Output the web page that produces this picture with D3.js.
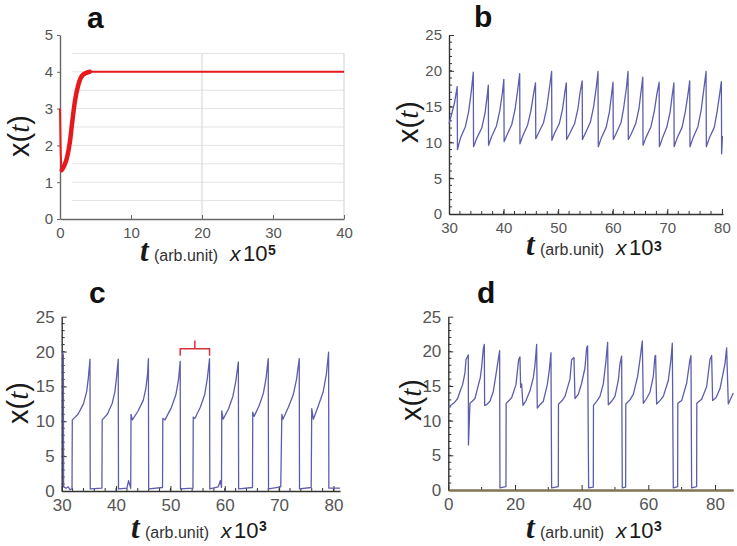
<!DOCTYPE html>
<html><head><meta charset="utf-8">
<script src="https://cdn.jsdelivr.net/npm/d3@7"></script>
<style>body{margin:0;background:#fff}svg{display:block}</style>
</head><body>
<svg id="chart" width="737" height="546"></svg>
<script>
// ---------- data ----------
const panelLetters = ["a", "b", "c", "d"];
const xTitleMain = "t", xTitleUnit = "(arb.unit)", xTitleTimes = "x", xTitleBase = "10";
const xTitleExp = ["5", "3", "3", "3"];

// panel a
const aT = [0, 0.08, 0.25, 0.6, 1.0, 1.4, 1.7, 2.1, 2.6, 3.3, 4.2, 6, 40];
const aX = [3.0, 2.0, 1.33, 1.45, 1.68, 2.1, 2.6, 3.2, 3.66, 3.93, 4.0, 4.0, 4.0];
const aXTicks = [0, 10, 20, 30, 40];
const aYTicks = [0, 1, 2, 3, 4, 5];
const aGridY = [0.5, 1, 1.5, 2, 2.5, 3, 3.5, 4, 4.5];
const aGridX = [20, 40];

// panel b
const bT = [30.0, 30.5, 31.0, 31.5, 31.55,
  32.1, 33.0, 33.6, 34.1, 34.45, 34.5,
  35.1, 36.0, 36.6, 37.0, 37.2, 37.25,
  37.8, 38.7, 39.3, 39.8, 40.05, 40.1,
  40.6, 41.5, 42.1, 42.6, 42.95, 43.0,
  43.5, 44.4, 45.0, 45.5, 45.85, 45.9,
  46.4, 47.3, 47.9, 48.4, 48.8, 48.85,
  49.3, 50.2, 50.8, 51.2, 51.5, 51.55,
  52.1, 53.0, 53.6, 54.0, 54.4, 54.45,
  55.0, 55.9, 56.5, 57.0, 57.3, 57.35,
  57.9, 58.8, 59.4, 59.8, 60.05, 60.1,
  60.6, 61.5, 62.0, 62.5, 62.8, 62.85,
  63.4, 64.2, 64.8, 65.2, 65.5, 65.55,
  66.1, 67.0, 67.6, 68.1, 68.5, 68.55,
  69.1, 69.9, 70.5, 70.9, 71.2, 71.25,
  71.8, 72.7, 73.3, 73.8, 74.1, 74.15,
  74.7, 75.6, 76.2, 76.7, 77.1, 77.15,
  77.7, 78.6, 79.1, 79.6, 79.9, 79.95, 80.1];
const bX = [12.6, 14.0, 15.5, 17.8, 9.0,
  10.6, 12.2, 14.3, 17.2, 19.8, 9.4,
  10.6, 12.0, 14.1, 16.5, 18.0, 9.6,
  10.8, 12.3, 14.4, 17.0, 18.8, 10.1,
  11.0, 12.5, 14.6, 17.4, 19.6, 9.8,
  10.9, 12.4, 14.4, 16.8, 18.3, 10.5,
  11.3, 12.7, 14.8, 17.6, 19.9, 10.3,
  11.2, 12.6, 14.6, 16.9, 18.3, 10.4,
  11.2, 12.6, 14.6, 16.9, 18.6, 10.4,
  11.3, 12.8, 15.0, 17.8, 19.9, 9.4,
  10.6, 12.1, 14.3, 16.8, 18.4, 10.4,
  11.2, 12.7, 14.8, 17.6, 19.9, 10.4,
  11.2, 12.6, 14.7, 17.2, 19.1, 9.6,
  10.7, 12.2, 14.3, 16.8, 18.4, 9.4,
  10.6, 12.1, 14.2, 16.6, 18.3, 9.4,
  10.6, 12.1, 14.3, 16.8, 18.6, 9.4,
  10.6, 12.2, 14.5, 17.5, 19.9, 9.4,
  10.6, 12.1, 14.2, 16.8, 18.5, 8.4, 10.9];
const bXTicks = [30, 40, 50, 60, 70, 80];
const bYTicks = [0, 5, 10, 15, 20, 25];

// panel c
const cT = [30.1, 30.3, 30.35, 30.8, 31.2, 31.5, 31.9,
  31.95, 33.0, 34.0, 34.6, 34.9, 35.2, 35.25,
  37.4, 37.45, 38.4, 39.3, 39.8, 40.1, 40.4, 40.45,
  42.0, 42.3, 42.7, 42.75, 43.0, 44.0, 45.0, 45.5, 45.8, 45.95, 46.0,
  48.55, 48.6, 49.0, 50.2, 51.0, 51.5, 51.8, 51.85,
  54.15, 54.2, 54.5, 55.5, 56.3, 56.8, 57.2, 57.25,
  58.8, 59.2, 59.4, 59.45, 59.7, 60.7, 61.5, 62.0, 62.5, 62.55,
  65.1, 65.15, 65.4, 66.3, 67.1, 67.6, 68.0, 68.05,
  70.3, 70.5, 70.7, 71.7, 72.6, 73.2, 73.7, 73.75,
  75.9, 76.0, 76.3, 77.2, 78.1, 78.7, 79.1, 79.15, 81.2];
const cX = [20.0, 19.5, 0.6, 0.4, 0.6, 0.2, 0.3,
  10.2, 11.0, 12.5, 14.3, 16.2, 18.9, 0.3,
  0.4, 10.2, 11.0, 12.6, 14.3, 16.4, 18.9, 0.3,
  0.4, 1.5, 0.4, 11.0, 10.2, 11.4, 13.0, 14.8, 16.8, 19.0, 0.3,
  0.5, 10.4, 10.2, 12.0, 13.8, 16.0, 18.6, 0.3,
  0.4, 10.6, 10.4, 12.0, 13.8, 16.2, 19.0, 0.3,
  0.6, 1.5, 0.5, 11.5, 10.3, 11.8, 13.6, 15.6, 18.5, 0.3,
  0.5, 11.3, 10.7, 12.2, 14.0, 16.2, 19.0, 0.3,
  0.6, 11.0, 10.3, 12.0, 13.8, 16.0, 19.0, 0.3,
  0.5, 11.8, 10.3, 12.2, 14.2, 16.8, 19.9, 0.4, 0.4];
const cXTicks = [30, 40, 50, 60, 70, 80];
const cYTicks = [0, 5, 10, 15, 20, 25];
const cBracketT = [51.8, 57.2];   // one period, between two peaks
const cBracketX = [19.4, 20.4, 21.6];

// panel d
const dT = [0, 1.0, 2.0, 2.8, 3.5, 4.3, 5.0, 5.3, 6.0, 6.05, 6.5, 7.2, 8.0, 9.0, 9.6, 10.0, 10.5, 10.8,
  10.9, 11.5, 12.5, 13.5, 14.5, 15.3, 15.4, 15.5, 17.3,
  17.35, 18.0, 19.0, 20.3, 21.1, 21.5, 21.7, 22.0, 22.4, 23.3, 24.5, 25.5, 26.0, 26.5,
  26.7, 27.5, 28.5, 29.7, 30.3, 30.8, 31.0, 33.0,
  33.05, 34.0, 35.0, 36.5, 37.0, 37.7, 38.0, 39.0, 40.0, 41.0, 41.5, 41.8, 42.1, 43.5,
  43.55, 44.5, 45.5, 46.5, 47.2, 47.8, 48.0, 49.0, 50.0, 51.0, 51.5, 52.0, 52.2, 53.2,
  53.25, 54.5, 55.5, 56.8, 57.5, 58.2, 58.5, 59.5, 60.5, 61.5, 62.0, 62.2, 62.5, 63.5, 64.5, 66.0, 66.8, 67.2, 67.5, 68.8,
  68.85, 70.0, 71.5, 72.5, 72.8, 73.0, 74.5,
  74.55, 76.0, 77.5, 78.5, 79.0, 79.3, 80.3, 81.5, 83.0, 83.5, 84.0, 85.5];
const dX = [12.0, 12.3, 12.7, 13.2, 14.2, 15.2, 16.9, 18.8, 19.5, 6.5, 12.5, 12.8, 13.2, 15.1, 16.2, 17.7, 20.4, 21.0,
  12.2, 12.3, 12.8, 14.2, 17.3, 19.8, 20.1, 0.3, 0.5,
  12.5, 12.8, 13.3, 15.2, 18.8, 19.2, 14.8, 15.3, 12.2, 12.9, 14.3, 16.2, 18.0, 21.0,
  11.8, 12.3, 12.8, 15.2, 17.3, 19.8, 0.3, 0.5,
  12.4, 12.8, 13.5, 16.0, 18.8, 19.1, 13.2, 13.8, 15.4, 17.6, 20.5, 20.8, 0.3, 0.4,
  12.2, 12.8, 13.5, 15.3, 18.2, 21.3, 12.3, 12.8, 13.5, 15.8, 18.2, 19.3, 0.3, 0.4,
  12.4, 13.0, 13.8, 16.4, 18.8, 21.5, 12.5, 13.2, 14.1, 16.4, 19.3, 19.4, 12.4, 12.9, 13.5, 15.8, 18.8, 21.2, 0.3, 0.5,
  12.5, 12.9, 15.4, 18.8, 19.4, 0.3, 0.5,
  12.5, 13.1, 14.9, 18.8, 19.4, 12.9, 13.3, 14.6, 18.2, 20.5, 12.4, 14.0];
const dXTicks = [0, 20, 40, 60, 80];
const dYTicks = [0, 5, 10, 15, 20, 25];

// ---------- drawing ----------
const svg = d3.select("#chart");
const LINE_BLUE = "#5d5dae";
const TICK_FONT = "'Liberation Sans', Arial, sans-serif";

function zip(t, v) { return t.map((d, i) => [d, v[i]]); }

function drawTitles(p) {
  // panel letter
  svg.append("text").attr("x", p.letterPos[0]).attr("y", p.letterPos[1])
    .attr("font-family", "'Liberation Sans', Arial, sans-serif").attr("font-weight", "bold")
    .attr("font-size", 30).attr("fill", "#111").text(p.letter);
  // y title x(t)
  const yt = svg.append("text")
    .attr("transform", `translate(${p.yTitlePos[0]},${p.yTitlePos[1]}) rotate(-90)`)
    .attr("text-anchor", "middle").attr("dominant-baseline", "central")
    .attr("font-family", "'Liberation Sans', Arial, sans-serif").attr("font-size", 29).attr("fill", "#1a1a1a");
  yt.append("tspan").text("x(");
  yt.append("tspan").attr("font-family", "'Liberation Serif', serif").attr("font-style", "italic").text("t");
  yt.append("tspan").text(")");
  // x title
  const [x0, by] = p.xTitlePos;
  const g = svg.append("g").attr("fill", "#1a1a1a");
  g.append("text").attr("x", x0).attr("y", by).attr("font-family", "'Liberation Serif', serif")
    .attr("font-style", "italic").attr("font-weight", "bold").attr("font-size", 31).text(xTitleMain);
  g.append("text").attr("x", x0 + 14).attr("y", by).attr("font-family", TICK_FONT)
    .attr("font-size", 16).attr("fill", "#333").text(xTitleUnit);
  g.append("text").attr("x", x0 + 90).attr("y", by).attr("font-family", TICK_FONT)
    .attr("font-style", "italic").attr("font-size", 21).text(xTitleTimes);
  g.append("text").attr("x", x0 + 103).attr("y", by).attr("font-family", TICK_FONT)
    .attr("font-size", 22).text(xTitleBase);
  g.append("text").attr("x", x0 + 128).attr("y", by - p.supRaise).attr("font-family", TICK_FONT)
    .attr("font-weight", "bold").attr("font-size", 14).text(p.exp);
}

function drawAxes(p, x, y) {
  const gx = svg.append("g").attr("transform", `translate(0,${y(p.yDomain[0])})`);
  gx.call(d3.axisBottom(x).tickValues(p.xTicks).tickFormat(d3.format("d"))
    .tickSizeInner(-p.tickLen).tickSizeOuter(0).tickPadding(p.xPad));
  const gy = svg.append("g").attr("transform", `translate(${x(p.xDomain[0])},0)`);
  gy.call(d3.axisLeft(y).tickValues(p.yTicks).tickFormat(d3.format("d"))
    .tickSizeInner(p.yTickIn ? -p.tickLen : 3).tickSizeOuter(0).tickPadding(p.yTickIn ? 7 : 4));
  [gx, gy].forEach(g => {
    g.selectAll("path.domain").attr("stroke", p.axisColor).attr("stroke-width", 1.4);
    g.selectAll(".tick line").attr("stroke", p.axisColor);
    g.selectAll(".tick text").attr("font-family", TICK_FONT).attr("font-size", p.tickFont).attr("fill", "#555");
  });
  if (p.minorX) {
    svg.append("g").selectAll("line").data(p.minorX).join("line")
      .attr("x1", d => x(d)).attr("x2", d => x(d))
      .attr("y1", y(p.yDomain[0])).attr("y2", y(p.yDomain[0]) - 3)
      .attr("stroke", p.axisColor);
  }
  if (p.minorY) {
    svg.append("g").selectAll("line").data(p.minorY).join("line")
      .attr("x1", x(p.xDomain[0])).attr("x2", x(p.xDomain[0]) + 3)
      .attr("y1", d => y(d)).attr("y2", d => y(d))
      .attr("stroke", p.axisColor);
  }
  return gx;
}

// ----- panel a -----
(function () {
  const p = { letter: panelLetters[0], exp: xTitleExp[0], xDomain: [0, 40], yDomain: [0, 5],
    xTicks: aXTicks, yTicks: aYTicks, tickLen: 4, tickFont: 15, xPad: 8, axisColor: "#666", yTickIn: false,
    letterPos: [87, 28], yTitlePos: [19, 136], xTitlePos: [140, 261], supRaise: 6 };
  const x = d3.scaleLinear().domain(p.xDomain).range([60, 344]);
  const y = d3.scaleLinear().domain(p.yDomain).range([219, 35]);
  // grid
  svg.append("g").selectAll("line").data(aGridY).join("line")
    .attr("x1", x(1.7)).attr("x2", x(40)).attr("y1", d => y(d)).attr("y2", d => y(d))
    .attr("stroke", "#e3e3e3").attr("stroke-width", 1);
  svg.append("g").selectAll("line").data(aGridX).join("line")
    .attr("x1", d => x(d)).attr("x2", d => x(d)).attr("y1", y(0)).attr("y2", y(4.5))
    .attr("stroke", "#dadada").attr("stroke-width", 1.2);
  drawAxes(p, x, y);
  const line = d3.line().x(d => x(d[0])).y(d => y(d[1])).curve(d3.curveMonotoneX);
  const pts = zip(aT, aX);
  svg.append("path").datum(pts).attr("d", line).attr("fill", "none")
    .attr("stroke", "#e8191c").attr("stroke-width", 2);
  svg.append("path").datum(pts.slice(2, 11)).attr("d", line).attr("fill", "none")
    .attr("stroke", "#e8191c").attr("stroke-width", 4.5).attr("stroke-linecap", "round");
  drawTitles(p);
})();

// ----- panel b -----
(function () {
  const p = { letter: panelLetters[1], exp: xTitleExp[1], xDomain: [30, 80.2], yDomain: [0, 25],
    xTicks: bXTicks, yTicks: bYTicks, tickLen: 5, tickFont: 15, xPad: 8, axisColor: "#333", yTickIn: true,
    minorX: d3.range(32, 80, 2), minorY: d3.range(1, 25, 1),
    letterPos: [474, 27], yTitlePos: [408, 122], xTitlePos: [526, 255], supRaise: 4 };
  const x = d3.scaleLinear().domain(p.xDomain).range([449, 723]);
  const y = d3.scaleLinear().domain(p.yDomain).range([214, 35]);
  drawAxes(p, x, y);
  const line = d3.line().x(d => x(d[0])).y(d => y(d[1]));
  svg.append("path").datum(zip(bT, bX)).attr("d", line).attr("fill", "none")
    .attr("stroke", LINE_BLUE).attr("stroke-width", 1.3).attr("stroke-linejoin", "round");
  drawTitles(p);
})();

// ----- panel c -----
(function () {
  const p = { letter: panelLetters[2], exp: xTitleExp[2], xDomain: [30, 81.2], yDomain: [0, 25],
    xTicks: cXTicks, yTicks: cYTicks, tickLen: 5, tickFont: 17, xPad: 8, axisColor: "#333", yTickIn: true,
    minorX: d3.range(32, 81, 2), minorY: d3.range(1, 25, 1),
    letterPos: [89, 303], yTitlePos: [18, 403], xTitlePos: [131, 538], supRaise: 7 };
  const x = d3.scaleLinear().domain(p.xDomain).range([61.7, 340]);
  const y = d3.scaleLinear().domain(p.yDomain).range([491, 316.7]);
  drawAxes(p, x, y);
  const line = d3.line().x(d => x(d[0])).y(d => y(d[1]));
  svg.append("path").datum(zip(cT, cX)).attr("d", line).attr("fill", "none")
    .attr("stroke", LINE_BLUE).attr("stroke-width", 1.3).attr("stroke-linejoin", "round");
  // red bracket marking one period
  const mid = (cBracketT[0] + cBracketT[1]) / 2;
  const br = d3.path();
  br.moveTo(x(cBracketT[0]), y(cBracketX[0]));
  br.lineTo(x(cBracketT[0]), y(cBracketX[1]));
  br.lineTo(x(cBracketT[1]), y(cBracketX[1]));
  br.lineTo(x(cBracketT[1]), y(cBracketX[0]));
  br.moveTo(x(mid), y(cBracketX[1]));
  br.lineTo(x(mid), y(cBracketX[2]));
  svg.append("path").attr("d", br.toString()).attr("fill", "none")
    .attr("stroke", "#d8323c").attr("stroke-width", 1.5);
  drawTitles(p);
})();

// ----- panel d -----
(function () {
  const p = { letter: panelLetters[3], exp: xTitleExp[3], xDomain: [0, 85.5], yDomain: [0, 25],
    xTicks: dXTicks, yTicks: dYTicks, tickLen: 5, tickFont: 17, xPad: 8, axisColor: "#333", yTickIn: true,
    minorX: [10, 30, 50, 70], minorY: d3.range(1, 25, 1),
    letterPos: [477, 303], yTitlePos: [411, 400], xTitlePos: [526, 538], supRaise: 7 };
  const x = d3.scaleLinear().domain(p.xDomain).range([448.3, 733.3]);
  const y = d3.scaleLinear().domain(p.yDomain).range([490, 316.7]);
  const gx = drawAxes(p, x, y);
  const line = d3.line().x(d => x(d[0])).y(d => y(d[1]));
  svg.append("path").datum(zip(dT, dX)).attr("d", line).attr("fill", "none")
    .attr("stroke", LINE_BLUE).attr("stroke-width", 1.3).attr("stroke-linejoin", "round");
  gx.raise();
  gx.select("path.domain").attr("stroke", "#7f7656").attr("stroke-width", 2.6);
  drawTitles(p);
})();
</script>
</body></html>
